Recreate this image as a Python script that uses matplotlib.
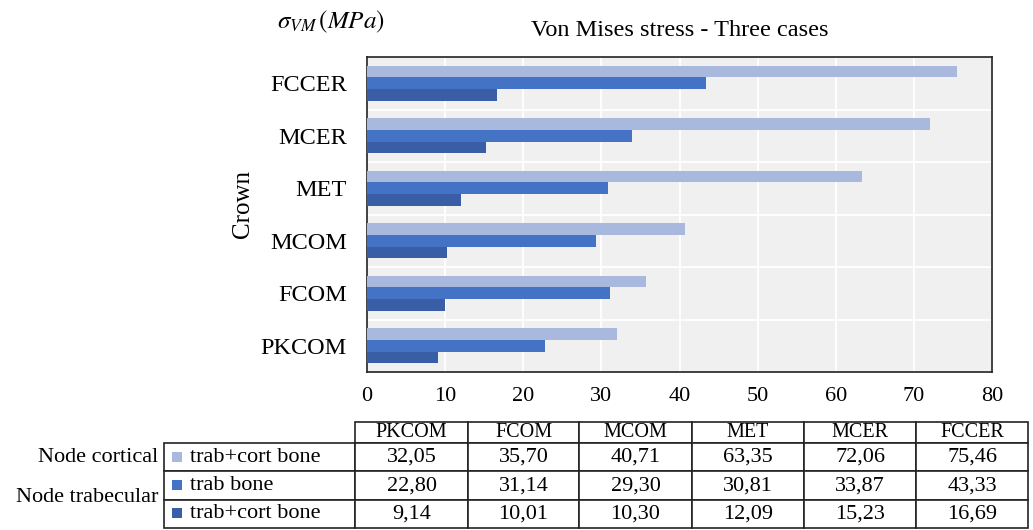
import numpy as np
import matplotlib
matplotlib.use("Agg")
import matplotlib.pyplot as plt

# ===============================
# DATA
# ===============================
CATEGORIES = ["PKCOM", "FCOM", "MCOM", "MET", "MCER", "FCCER"]
CORTICAL_TRAB_CORT = [32.05, 35.70, 40.71, 63.35, 72.06, 75.46]
TRABECULAR_TRAB = [22.80, 31.14, 29.30, 30.81, 33.87, 43.33]
TRABECULAR_TRAB_CORT = [9.14, 10.01, 10.30, 12.09, 15.23, 16.69]

SERIES_LABELS = ["trab+cort bone", "trab bone", "trab+cort bone"]
GROUP_LABELS = ["Node cortical", "Node trabecular"]
X_TICKS = [0, 10, 20, 30, 40, 50, 60, 70, 80]

# ===============================
# STYLE
# ===============================
COLORS = ["#A9B8DD", "#4472C4", "#3A5EA6"]
PANEL_BG = "#F0F0F0"
EDGE = "#222222"

plt.rcParams["font.family"] = ["Liberation Serif", "DejaVu Serif"]
plt.rcParams["mathtext.fontset"] = "stix"

W, H = 1033, 530
fig = plt.figure(figsize=(W / 100, H / 100), dpi=100)


def px_box(x0, y0, x1, y1):
    # pixel box (top-left origin) -> figure fraction rect
    return [x0 / W, 1 - y1 / H, (x1 - x0) / W, (y1 - y0) / H]


# ===============================
# BAR PANEL
# ===============================
ax = fig.add_axes(px_box(367, 57, 992, 372))
ax.set_facecolor(PANEL_BG)

y = np.arange(len(CATEGORIES))
h = 0.22
series = [CORTICAL_TRAB_CORT, TRABECULAR_TRAB, TRABECULAR_TRAB_CORT]
for i, (vals, col) in enumerate(zip(series, COLORS)):
    ax.barh(y + (1 - i) * h, vals, height=h, color=col, zorder=3)

ax.set_xlim(0, 80)
ax.set_ylim(-0.5, len(CATEGORIES) - 0.5)
ax.set_xticks(X_TICKS)
ax.set_xticklabels([str(t) for t in X_TICKS], fontsize=16)
ax.set_yticks(y)
ax.set_yticklabels(CATEGORIES, fontsize=17.5)
ax.tick_params(axis="both", length=0)
ax.tick_params(axis="y", pad=14.5)
ax.tick_params(axis="x", pad=11)
ax.grid(axis="x", color="white", linewidth=1.3, zorder=0)
# horizontal separators between categories
for yy in np.arange(0.5, len(CATEGORIES) - 0.5, 1.0):
    ax.axhline(yy, color="white", linewidth=1.3, zorder=1)
for sp in ax.spines.values():
    sp.set_color(EDGE)
    sp.set_linewidth(1.2)

ax.set_title("Von Mises stress - Three cases", fontsize=17.5, pad=15)
fig.text(277 / W, 1 - 22 / H, r"$\sigma_{VM}\,(MPa)$", fontsize=18,
         ha="left", va="center")
fig.text(243 / W, 1 - 204 / H, "Crown", fontsize=18, rotation=90,
         ha="center", va="center")

# ===============================
# DATA TABLE
# ===============================
tab_ax = fig.add_axes(px_box(164, 422, 1028, 528))
tab_ax.set_axis_off()

col_px = [191, 113, 111, 113, 112, 112, 112]
col_widths = [c / sum(col_px) for c in col_px]

cell_text = []
for lab, vals in zip(SERIES_LABELS, series):
    cell_text.append([lab] + [f"{v:.2f}".replace(".", ",") for v in vals])

table = tab_ax.table(cellText=cell_text, colLabels=[""] + CATEGORIES,
                     colWidths=col_widths, cellLoc="center",
                     bbox=[0, 0, 1, 1])
table.auto_set_font_size(False)
table.set_fontsize(16)

for (r, c), cell in table.get_celld().items():
    cell.set_edgecolor(EDGE)
    cell.set_linewidth(1.2)
    cell.set_facecolor("white")
    cell.set_height(21 if r == 0 else 28)
    if r == 0:
        cell.get_text().set_fontsize(14.5)
    if r == 0 and c == 0:
        cell.visible_edges = "open"
    if c == 0 and r > 0:
        cell.get_text().set_ha("left")
        cell._loc = "left"
        cell.PAD = 0.135

# legend squares in the first column
row_centers_px = [457, 485, 513]
for yc, col in zip(row_centers_px, COLORS):
    fig.patches.append(plt.Rectangle((172 / W, 1 - (yc + 5) / H), 10 / W, 10 / H,
                                     transform=fig.transFigure, facecolor=col,
                                     edgecolor="none", zorder=10))

fig.text(158 / W, 1 - 458 / H, GROUP_LABELS[0], fontsize=16,
         ha="right", va="center")
fig.text(158 / W, 1 - 497 / H, GROUP_LABELS[1], fontsize=16,
         ha="right", va="center")

fig.savefig("out.png", dpi=100)
